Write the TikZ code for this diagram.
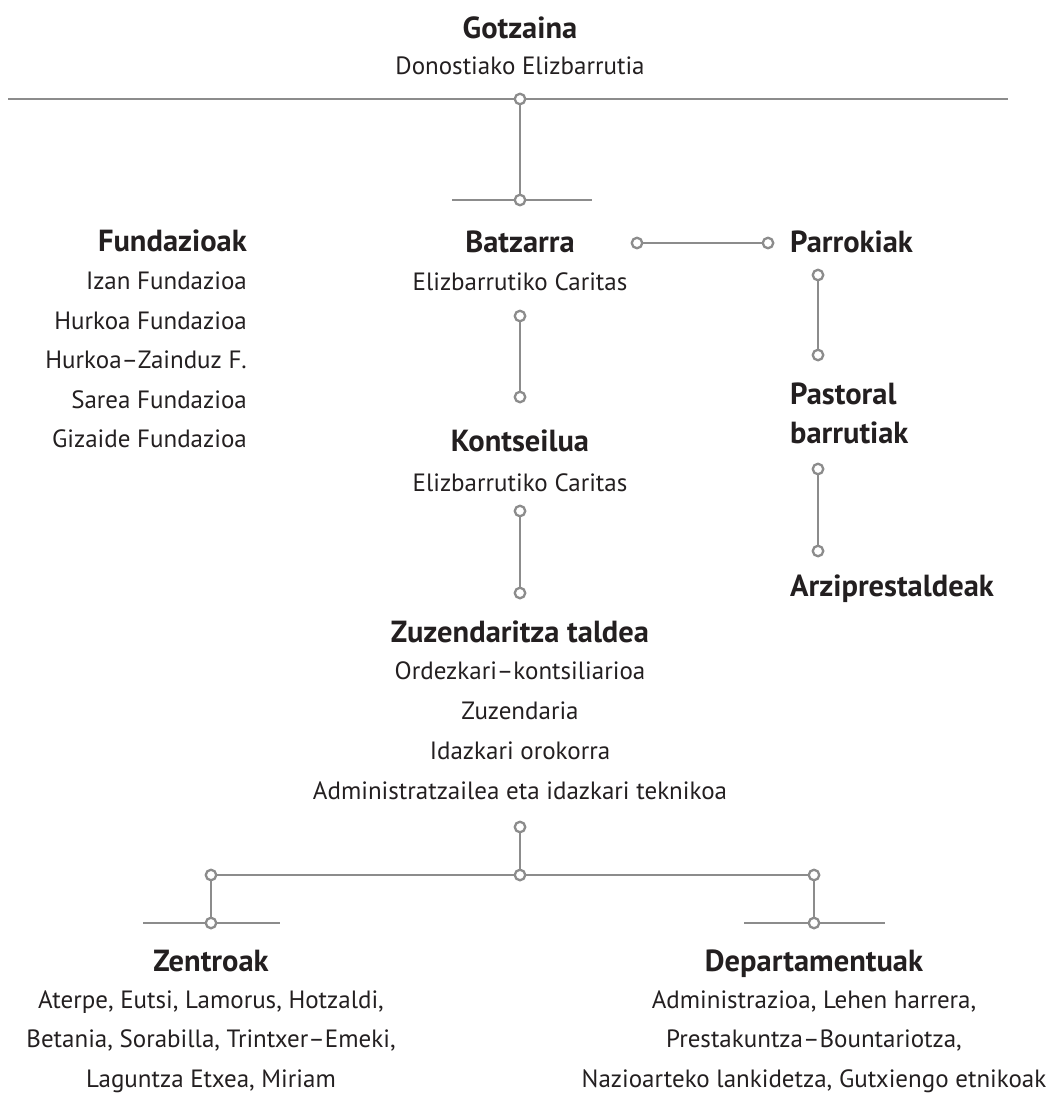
\documentclass[tikz,border=0pt]{standalone}
\usepackage{fontspec}
\setmainfont{PT Sans}
\usepackage{tikz}
\usetikzlibrary{positioning}
\definecolor{linegray}{HTML}{8C8C8C}
\definecolor{ink}{HTML}{231F20}
\tikzset{
  % text styles
  % gebruik: \node[head] (naam) at (x,y) {Titel};
  head/.style={font=\fontsize{30.5}{34}\selectfont\bfseries,text=ink,anchor=base,inner sep=0pt},
  sub/.style={font=\fontsize{25}{28}\selectfont,text=ink,anchor=base,inner sep=0pt},
  % connector styles
  link/.style={draw=linegray,line width=2.7pt},
  dot/.style={circle,draw=linegray,fill=white,line width=2.3pt,inner sep=0pt,minimum size=10.5pt},
}

\begin{document}
\begin{tikzpicture}[x=1pt,y=-1pt]
  \useasboundingbox (0,0) rectangle (1048,1095);
  % bovenste blok
  \node[head] (gotz) at (520,38) {Gotzaina};
  \node[sub] (gotzsub) at (520,74) {Donostiako Elizbarrutia};
  \coordinate (topl) at (8,99);
  \coordinate (topr) at (1008,99);
  \node[dot] (d0) at (520,99) {};
  \node[dot] (d1) at (520,200) {};
  \coordinate (batzl) at (452,200);
  \coordinate (batzr) at (592,200);
  \draw[link] (topl) -- (d0) -- (topr);
  \draw[link] (d0) -- (d1);
  \draw[link] (batzl) -- (d1) -- (batzr);
  % fundazioak
  \node[head,anchor=base east] (fund) at (247,251) {Fundazioak};
  \foreach \t [count=\i] in {Izan Fundazioa, Hurkoa Fundazioa, Hurkoa--Zainduz F.,
      Sarea Fundazioa, Gizaide Fundazioa}
    \node[sub,anchor=base east] (fund-\i) at (247,{250+39.5*\i}) {\t};
  % middenkolom
  \node[head] (batz) at (520,252) {Batzarra};
  \node[sub] (batzsub) at (520,290) {Elizbarrutiko Caritas};
  \node[dot] (d2) at (520,316) {};
  \node[dot] (d3) at (520,397) {};
  \draw[link] (d2) -- (d3);
  \node[head] (kont) at (520,451) {Kontseilua};
  \node[sub] (kontsub) at (520,491) {Elizbarrutiko Caritas};
  \node[dot] (d4) at (520,511) {};
  \node[dot] (d5) at (520,593) {};
  \draw[link] (d4) -- (d5);
  \node[head] (zuz) at (520,642) {Zuzendaritza taldea};
  \foreach \t [count=\i] in {Ordezkari--kontsiliarioa, Zuzendaria, Idazkari orokorra,
      Administratzailea eta idazkari teknikoa}
    \node[sub] (zuz-\i) at (520,{639+40*\i}) {\t};
  % parrokiak
  \node[dot] (p0) at (637,243) {};
  \node[dot] (p1) at (768,243) {};
  \draw[link] (p0) -- (p1);
  \node[head,anchor=base west] (parr) at (790,252) {Parrokiak};
  \node[dot] (p2) at (818,275) {};
  \node[dot] (p3) at (818,355) {};
  \draw[link] (p2) -- (p3);
  \node[head,anchor=base west] (past) at (790,404) {Pastoral};
  \node[head,anchor=base west] (past2) at (790,443) {barrutiak};
  \node[dot] (p4) at (818,469) {};
  \node[dot] (p5) at (818,551) {};
  \draw[link] (p4) -- (p5);
  \node[head,anchor=base west] (arzi) at (790,596) {Arziprestaldeak};
  % onderste vertakking
  \node[dot] (z0) at (520,827) {};
  \node[dot] (z1) at (520,875) {};
  \node[dot] (zl) at (211,875) {};
  \node[dot] (zr) at (814,875) {};
  \node[dot] (zl2) at (211,923) {};
  \node[dot] (zr2) at (814,923) {};
  \coordinate (zentl) at (143,923);
  \coordinate (zentr) at (280,923);
  \coordinate (depl) at (744,923);
  \coordinate (depr) at (885,923);
  \draw[link] (z0) -- (z1);
  \draw[link] (zl) -- (z1) -- (zr);
  \draw[link] (zl) -- (zl2);
  \draw[link] (zr) -- (zr2);
  \draw[link] (zentl) -- (zl2) -- (zentr);
  \draw[link] (depl) -- (zr2) -- (depr);
  % zentroak en departamentuak
  \node[head] (zent) at (211,971) {Zentroak};
  \foreach \t [count=\i] in {{Aterpe, Eutsi, Lamorus, Hotzaldi,},
      {Betania, Sorabilla, Trintxer--Emeki,}, {Laguntza Etxea, Miriam}}
    \node[sub] (zent-\i) at (211,{968.5+39.5*\i}) {\t};
  \node[head] (dep) at (814,971) {Departamentuak};
  \foreach \t [count=\i] in {{Administrazioa, Lehen harrera,},
      {Prestakuntza--Bountariotza,}, {Nazioarteko lankidetza, Gutxiengo etnikoak}}
    \node[sub] (dep-\i) at (814,{968.5+39.5*\i}) {\t};
\end{tikzpicture}
\end{document}
